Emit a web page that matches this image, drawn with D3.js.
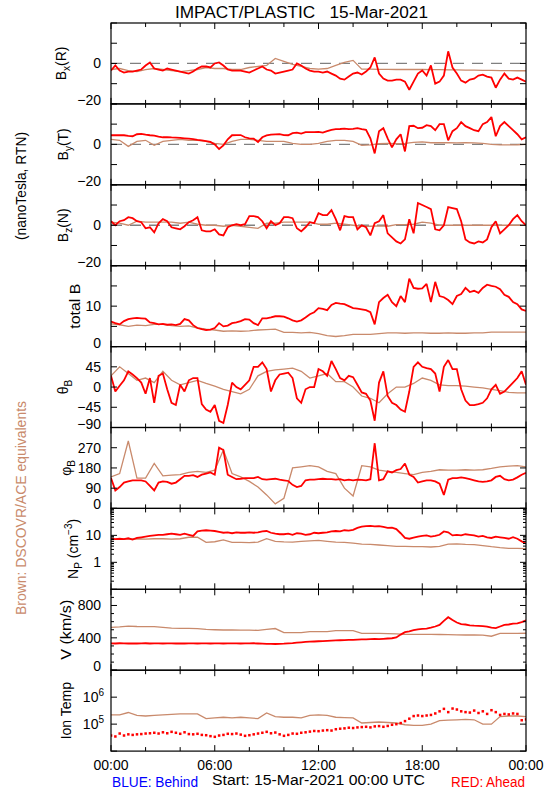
<!DOCTYPE html>
<html><head><meta charset="utf-8">
<script src="https://cdn.jsdelivr.net/npm/d3@7"></script>
<style>body{margin:0;background:#fff}svg text{font-family:"Liberation Sans",Arial,Helvetica,sans-serif}</style>
</head><body><svg id="c" width="550" height="800"></svg>
<script>
// ---- data (red: STEREO-A Ahead every 15 min; brown: DSCOVR/ACE every 30 min) ----
const hourTicks=[0,2,4,6,8,10,12,14,16,18,20,22,24];
const hourLabels=["00:00","06:00","12:00","18:00","00:00"];
const bxRed=[-3.5,-1,-3.5,-4.5,-4,-4,-3.5,-3,-1,0.5,-2.5,-3,-3.5,-2.5,-3,-3.5,-4,-4.5,-5,-4,-2.5,-1.5,-1.5,-2,0,0.5,-1,-3,-3.5,-3.5,-3.5,-4,-4.5,-3.5,-2.5,-1.5,-3,-3.5,-5,-4.5,-4,-3.5,-3,0,-1,-2.5,-3.5,-4,-4,-4.5,-4,-5,-6,-7.5,-8,-6.5,-5,-4.5,-5.5,-4,-2,3,-5,-7.5,-8.5,-8.5,-8,-8,-9,-13,-9,-5,-3.5,-6,-1,-10,-9,-6,6,-2,-5,-8.5,-9.5,-8,-7.5,-6,-5.5,-6.5,-7,-12,-8,-5,-7.5,-8,-7,-8,-9];
const bxBrown=[-3,-2.5,-3.5,-4,-3,-2.5,-3,-3.5,-4,-3.5,-3,-2,-2.5,-2.5,-3,-3,-2,-1.5,-1,2.5,1,-0.5,-1.5,-2.5,-2.8,-2.5,-1,0.5,1.5,-2.8,-2.8,-2.9,-2.9,-3,-3,-3,-3,-3.1,-3.1,-3.2,-3.2,-3.3,-3.3,-3.4,-3.4,-3.5,-3.5,-3.6,-3.6];
const byRed=[4.5,4.5,4.5,4.5,4.2,4,5,5.2,4.8,4.5,4.3,3.8,3.5,3.6,3.4,3.3,3.2,3,2.8,2.6,2.2,2,1.6,1.2,0,-2.3,-0.5,2.5,4.5,4.6,4.6,3.5,3,2.8,1.2,3.5,4.4,4.8,4.9,5,4.6,4.5,5.5,5.8,5.3,6,6,6,6.2,5.8,6.5,7.2,7.5,7.6,7.8,7.5,7.7,8,7.5,7.2,3,-4.5,6.5,8,3,-1.5,2.5,5,-3.5,9,9.2,8,8.2,9.5,9,7,10,10,2,6.5,8,11,9,8,7,6.5,10,11,13.5,4,9,11,9,7,5,2.5,3.5];
const byBrown=[2.5,2,-1,1.5,2,-0.5,1.5,2,2.5,2,2,1.5,0.5,0,1.5,2.5,2.5,2,1.5,1.5,1.5,0.5,0,0,0.5,1.5,2,2,1.5,-0.5,-0.3,0.3,0.5,0.3,0.5,1,1.2,0.8,0.8,0.8,0.7,0.8,0.7,0.5,0,-0.3,-0.3,-0.2,0];
const bzRed=[2,0,2,2.5,4,3.5,2,1.5,-1.5,-1,-3.5,1,3,2,-1,-1.5,-2,-0.5,1.5,2.5,4,-2.5,-3,-3,-2,-4.5,-5,-1,0,0.5,0,0.5,4.5,4.5,4,2,-1.5,2,0,1,4,4,3.5,-1.5,-3,-1,1.5,1,6,5,5,7.5,3,-2.5,4.5,4,4,-2,0,-1,-5,1,2,5,-4,-6,-8,-9,-7,3,-4,11,10,9,8,-2,-2.5,0,9,8.5,8,2,-7,-8.5,-9,-8,-8.5,-7,-1,2,-4,-2,0,3,5,2,0];
const bzBrown=[1.5,1,0,2,1.5,1.5,1.5,1.5,1,1.5,0.5,0,0,-0.5,0,-0.5,-1,-1.5,1,1,1.5,1.5,1.5,1.5,0.5,0.5,1,0.5,0,-0.5,-0.5,-0.3,-0.5,0.3,0.3,0.5,1.5,1,0,0,0,0,0,0,0,0,0,0,0];
const btRed=[6.2,5.8,5.5,6.3,6.8,7,7.1,7,6.9,6,5.8,5.5,5.6,5.4,5.5,5.3,5.6,6.8,6.5,5.3,4.6,4.3,4.1,4.2,4.6,5.8,5,5.2,5.8,6,6.3,6.8,6.7,5.8,5.3,7,7,7.2,7.5,7.5,7.4,7,6.5,6.2,6.5,7.2,8,8.5,9.5,9.3,9,10.3,10.8,10.6,10.5,10,9.5,9.4,9.2,9,8.5,5.5,11,12,12.8,11,10,12.5,11,16.8,14.5,14.3,14.4,15.5,11,16,12.5,12.2,11.5,10.5,12.5,13,14.5,13.5,13.8,13.3,14.5,15.3,15,14.8,14.2,12.8,12.3,11,10.5,9.2,8.8];
const btBrown=[5.6,5.4,5,5.3,5.2,5.5,5.5,5.2,5,5.1,4.6,4.3,4.1,3.8,3.9,3.8,3.9,4.1,4.2,4.3,3.5,3.5,3.4,3.5,3.2,2.7,2.5,2.7,3,3,3,3.2,3.4,3.4,3.3,3.4,3.4,3.3,3.3,3.4,3.3,3.3,3.4,3.4,3.6,3.6,3.6,3.6,3.6];
const thRed=[25,-10,3,15,35,28,20,10,-15,20,-35,25,30,-5,-35,-40,5,-10,15,20,20,-38,-50,-55,-40,-75,-80,-40,10,0,-5,5,15,45,45,55,40,-10,15,28,30,32,20,-25,-35,-5,0,0,40,35,25,58,40,20,15,25,22,5,-12,-15,-30,-75,10,35,-20,-35,-40,-50,-55,-10,45,55,45,42,40,30,-10,45,60,40,40,-5,-30,-40,-40,-38,-35,-25,-5,5,-15,-10,0,10,20,35,5];
const thBrown=[25,45,30,15,20,10,35,15,5,10,15,8,2,-5,-10,-15,-5,25,35,38,40,42,35,20,25,30,12,12,0,-20,-25,-35,-15,0,0,8,20,15,5,3,3,2,0,-2,-5,-8,-12,-13,-13];
const phRed=[135,80,95,115,120,125,125,125,120,100,80,115,120,118,110,115,130,145,145,148,140,150,155,160,150,270,260,150,140,130,132,135,135,135,140,130,128,130,132,128,125,122,105,95,100,125,128,128,130,132,130,130,128,130,125,128,125,128,127,125,130,290,125,130,165,160,170,175,200,150,140,115,120,125,125,120,110,60,128,135,135,138,135,130,125,120,118,120,125,140,145,130,125,128,138,150,158];
const phBrown=[140,155,300,135,135,200,145,148,150,160,165,160,170,260,155,140,120,95,60,20,45,180,185,190,185,165,155,90,55,190,185,170,165,160,155,150,160,165,172,170,170,172,170,172,178,185,188,190,185];
const npRed=[7.5,7.3,7.5,7.2,7.8,7,8,8.5,9,9.5,10,10.5,10.5,11,11.5,11,10.5,11.5,10.5,9.5,14,15,15.5,15,14.5,13.5,12.5,12.8,12,13,12.5,12.5,13,12.5,13,14,14.5,12.5,11.5,11,11,11.5,10.5,12,11.5,10.5,11,12.5,12,12.5,13,14,14.5,14,15.5,15,16,19,21,22,22.5,21.5,22,20.5,19,19.5,17,12,8,7.5,8.2,9,9.5,10,9,9.5,10.5,14,13,10,10.5,10,11,10.5,10,9,9.5,8.5,8,9,8.5,8,7.5,8.5,7.5,6,5];
const npBrown=[7,7.2,7.3,7.5,7.2,7.5,7.5,7.3,7.5,8.5,8.6,5.5,5.8,6.8,5.5,5.5,5.4,5.6,7.5,6,5.7,5.6,6,6.2,6.5,6,5.6,5.5,5.2,4.7,4.6,4.4,4.2,3.9,3.9,3.8,3.8,3.7,3.9,4.7,4.8,4.6,4.5,4.2,3.8,3.5,3.3,3.3,3.2];
const vRed=[332,330,333,331,330,332,330,331,333,330,332,331,330,331,332,330,331,330,332,331,330,332,331,330,331,332,330,331,332,331,330,331,332,333,330,328,325,325,324,326,328,332,335,340,345,350,352,355,358,360,362,365,368,370,372,375,376,378,380,382,384,386,385,388,392,395,405,440,470,480,495,505,510,515,525,540,560,610,655,620,590,570,565,555,550,548,545,540,525,520,540,560,565,575,580,595,615];
const vBrown=[530,535,545,540,538,538,530,520,518,518,515,505,500,497,497,495,495,493,505,515,465,464,464,478,478,478,488,489,489,456,456,455,453,450,443,443,442,442,441,440,436,435,435,434,420,455,456,456,457];
const tRed=[3.8e4,3.5e4,4.5e4,3.8e4,4.2e4,4.0e4,4.2e4,4.3e4,4.5e4,4.6e4,4.8e4,4.5e4,5.0e4,4.6e4,5.2e4,4.8e4,4.4e4,5.0e4,4.3e4,4.2e4,4.4e4,4.0e4,3.9e4,3.6e4,3.4e4,3.8e4,4.0e4,4.4e4,4.3e4,4.5e4,4.1e4,3.7e4,3.9e4,4.2e4,4.5e4,4.8e4,5.2e4,4.6e4,4.9e4,4.2e4,3.7e4,4.0e4,4.5e4,4.4e4,4.8e4,5.0e4,5.3e4,5.6e4,5.5e4,5.8e4,6.0e4,5.8e4,6.5e4,6.8e4,7.0e4,7.4e4,7.2e4,7.6e4,7.8e4,8.0e4,7.6e4,8.3e4,8.5e4,8.0e4,8.6e4,9.5e4,1.0e5,1.1e5,1.3e5,1.6e5,2.0e5,2.1e5,2.0e5,2.1e5,2.2e5,2.5e5,3.0e5,3.7e5,2.8e5,3.8e5,3.5e5,3.0e5,2.8e5,2.7e5,3.2e5,2.6e5,3.0e5,2.4e5,3.3e5,2.8e5,2.2e5,2.4e5,2.3e5,2.5e5,2.4e5,1.4e5,1.5e5];
const tBrown=[2.2e5,2.2e5,2.7e5,2.1e5,2.0e5,2.1e5,2.2e5,2.3e5,2.4e5,2.4e5,2.4e5,1.6e5,1.7e5,1.8e5,1.7e5,1.8e5,1.7e5,1.6e5,2.6e5,1.9e5,1.8e5,1.8e5,1.7e5,2.1e5,2.2e5,2.1e5,1.8e5,1.75e5,1.7e5,1.1e5,1.15e5,1.2e5,1.15e5,1.1e5,9.5e4,9.0e4,9.0e4,1.0e5,1.35e5,1.4e5,1.45e5,1.5e5,1.45e5,1.0e5,1.0e5,1.9e5,2.0e5,2.0e5,1.9e5];

// ---- layout ----
const X0=111,X1=526,TOP=23,PH=80.9;
const RED="#ff0000",BROWN="#c98a6c";
const svg=d3.select("#c");
const x=d3.scaleLinear().domain([0,24]).range([X0,X1]);
const redT=i=>i*0.25, brT=i=>i*0.5;

const panels=[
 {label:[{t:"B"},{t:"x",s:"sub"},{t:"(R)"}],lx:66,dom:[-20,20],ticks:[-20,-10,0,10,20],tl:[-20,0],zero:true,red:bxRed,brown:bxBrown},
 {label:[{t:"B"},{t:"y",s:"sub"},{t:"(T)"}],lx:68,dom:[-20,20],ticks:[-20,-10,0,10,20],tl:[-20,0],zero:true,red:byRed,brown:byBrown},
 {label:[{t:"B"},{t:"z",s:"sub"},{t:"(N)"}],lx:68,dom:[-20,20],ticks:[-20,-10,0,10,20],tl:[-20,0],zero:true,red:bzRed,brown:bzBrown},
 {label:[{t:"total B"}],lx:80,len:45,dom:[0,20],ticks:[0,5,10,15,20],tl:[0,10],red:btRed,brown:btBrown},
 {label:[{t:"θ"},{t:"B",s:"sub"}],lx:68,dom:[-90,90],ticks:[-90,-45,0,45,90],tl:[-90,-45,0,45],red:thRed,brown:thBrown},
 {label:[{t:"φ"},{t:"B",s:"sub"}],lx:71,dom:[0,360],ticks:[0,90,180,270,360],tl:[0,90,180,270],red:phRed,brown:phBrown},
 {label:[{t:"N"},{t:"P",s:"sub"},{t:" (cm"},{t:"−3",s:"sup"},{t:")"}],lx:78,log:true,dom:[0.1,100],ticks:[0.1,1,10,100],tl:[1,10],minorLog:true,red:npRed,brown:npBrown},
 {label:[{t:"V (km/s)"}],lx:71,len:60,dom:[0,1000],ticks:[0,400,800],minor:[100,200,300,500,600,700,900],tl:[0,400,800],red:vRed,brown:vBrown},
 {label:[{t:"Ion Temp"}],lx:71,log:true,dom:[1e4,1e7],ticks:[1e4,1e5,1e6,1e7],tl:[1e5,1e6],exp:true,dots:true,red:tRed,brown:tBrown}
];

const fmt=v=>(v<0?"−"+Math.abs(v):String(v));

panels.forEach((p,k)=>{
  const y0=TOP+k*PH, y1=y0+PH;
  const y=(p.log?d3.scaleLog():d3.scaleLinear()).domain(p.dom).range([y1,y0]);
  const g=svg.append("g");
  const cid="clip"+k;
  svg.append("clipPath").attr("id",cid).append("rect").attr("x",X0).attr("y",y0).attr("width",X1-X0).attr("height",PH);
  const dg=g.append("g").attr("clip-path",`url(#${cid})`);
  if(p.zero){
    dg.append("line").attr("x1",X0).attr("x2",X1).attr("y1",y(0)).attr("y2",y(0))
      .attr("stroke","#808080").attr("stroke-width",1.3).attr("stroke-dasharray","11,8");
  }
  // brown
  const lb=d3.line().x((d,i)=>x(brT(i))).y(d=>y(d));
  dg.append("path").datum(p.brown).attr("d",lb).attr("fill","none").attr("stroke",BROWN).attr("stroke-width",1.3);
  // red
  if(p.dots){
    dg.selectAll("rect.r").data(p.red).join("rect").attr("x",(d,i)=>x(redT(i))-1.2).attr("y",d=>y(d)-1.2)
      .attr("width",2.5).attr("height",2.5).attr("fill",RED);
  } else {
    const lr=d3.line().x((d,i)=>x(redT(i))).y(d=>y(d));
    dg.append("path").datum(p.red).attr("d",lr).attr("fill","none").attr("stroke",RED).attr("stroke-width",1.8)
      .attr("stroke-linejoin","miter").attr("stroke-miterlimit",2);
  }
  // frame
  g.append("rect").attr("x",X0).attr("y",y0).attr("width",X1-X0).attr("height",PH)
    .attr("fill","none").attr("stroke","#000").attr("stroke-width",1.2);
  // x ticks
  hourTicks.forEach(h=>{
    const len=(h%6===0)?6:4;
    g.append("line").attr("x1",x(h)).attr("x2",x(h)).attr("y1",y1).attr("y2",y1-len).attr("stroke","#000");
    g.append("line").attr("x1",x(h)).attr("x2",x(h)).attr("y1",y0).attr("y2",y0+len).attr("stroke","#000");
  });
  // y ticks
  const yt=(v,len)=>{
    g.append("line").attr("x1",X0).attr("x2",X0+len).attr("y1",y(v)).attr("y2",y(v)).attr("stroke","#000");
    g.append("line").attr("x1",X1).attr("x2",X1-len).attr("y1",y(v)).attr("y2",y(v)).attr("stroke","#000");
  };
  p.ticks.forEach(v=>yt(v,6));
  if(p.minor) p.minor.forEach(v=>yt(v,3));
  if(p.minorLog){
    [0.1,1,10].forEach(d=>[2,3,4,5,6,7,8,9].forEach(m=>yt(d*m,3)));
  }
  // tick labels
  p.tl.forEach(v=>{
    const atBottom=(v===p.dom[0]);
    const ty=y(v)+5-(atBottom?4:0);
    if(p.exp){
      const e=Math.round(Math.log10(v));
      const t=g.append("text").attr("x",104).attr("y",ty).attr("text-anchor","end").attr("font-size",14);
      t.append("tspan").text("10");
      t.append("tspan").text(e).attr("font-size",10).attr("dy",-6);
    } else {
      g.append("text").attr("x",101).attr("y",ty).attr("text-anchor","end").attr("font-size",14).text(fmt(v));
    }
  });
  // panel label (rotated)
  const cy=(y0+y1)/2;
  const t=svg.append("text").attr("transform",`translate(${p.lx},${cy}) rotate(-90)`)
    .attr("text-anchor","middle").attr("font-size",14);
  if(p.len) t.attr("textLength",p.len).attr("lengthAdjust","spacingAndGlyphs");
  let off=0;
  p.label.forEach(s=>{
    const ts=t.append("tspan").text(s.t);
    let target=0;
    if(s.s==="sub"){ts.attr("font-size",10);target=4;}
    if(s.s==="sup"){ts.attr("font-size",10);target=-6;}
    if(target!==off){ts.attr("dy",target-off);off=target;}
  });
});

// x axis labels
hourLabels.forEach((s,i)=>{
  svg.append("text").attr("x",x(i*6)).attr("y",769.5).attr("text-anchor","middle").attr("font-size",14).text(s);
});
// title
svg.append("text").attr("x",301.5).attr("y",17.5).attr("text-anchor","middle").attr("font-size",16)
  .attr("textLength",253).attr("lengthAdjust","spacingAndGlyphs").text("IMPACT/PLASTIC\u00a0\u00a0\u00a015-Mar-2021");
// bottom captions
svg.append("text").attr("x",112).attr("y",787).attr("font-size",14).attr("fill","#0000ff")
  .attr("textLength",86).attr("lengthAdjust","spacingAndGlyphs").text("BLUE: Behind");
svg.append("text").attr("x",212).attr("y",785).attr("font-size",14).attr("fill","#000")
  .attr("textLength",213).attr("lengthAdjust","spacingAndGlyphs").text("Start: 15-Mar-2021 00:00 UTC");
svg.append("text").attr("x",451).attr("y",787).attr("font-size",14).attr("fill","#ff0000")
  .attr("textLength",74).attr("lengthAdjust","spacingAndGlyphs").text("RED: Ahead");
// left side labels
svg.append("text").attr("transform","translate(26,186) rotate(-90)").attr("text-anchor","middle")
  .attr("font-size",14).attr("textLength",108).attr("lengthAdjust","spacingAndGlyphs").text("(nanoTesla, RTN)");
svg.append("text").attr("transform","translate(26,508) rotate(-90)").attr("text-anchor","middle")
  .attr("font-size",14).attr("fill",BROWN).attr("textLength",214).attr("lengthAdjust","spacingAndGlyphs")
  .text("Brown: DSCOVR/ACE equivalents");
</script></body></html>
